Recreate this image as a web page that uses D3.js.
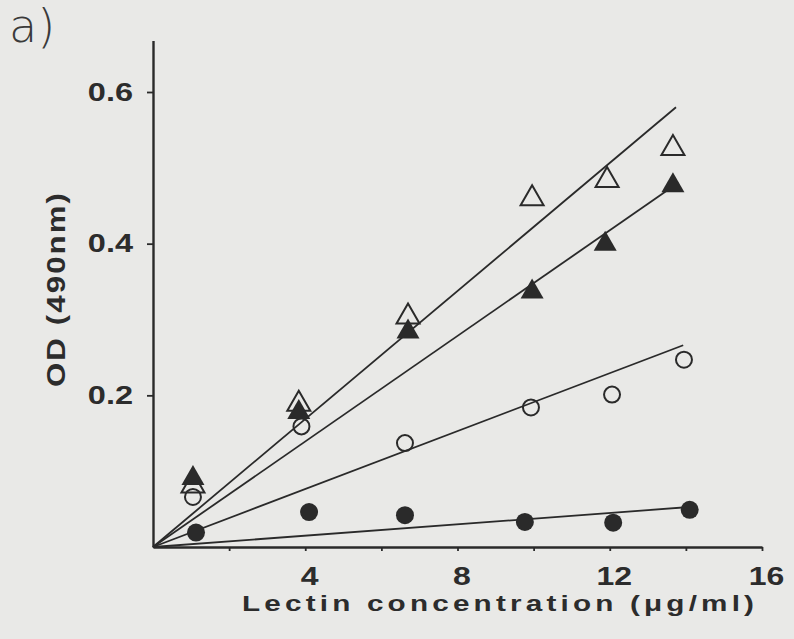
<!DOCTYPE html>
<html>
<head>
<meta charset="utf-8">
<script src="https://cdn.jsdelivr.net/npm/d3@7/dist/d3.min.js"></script>
<style>
  html, body { margin: 0; padding: 0; background: #e9e9e7; }
  svg { display: block; }
  .lbl { font-family: "Liberation Sans", Arial, sans-serif; font-weight: bold; fill: #2c2c2c; }
</style>
</head>
<body>
<svg id="chart" width="794" height="639"></svg>
<script>
// Lectin binding: OD at 490 nm against lectin concentration, four series
const xTicks = [2, 4, 6, 8, 10, 12, 14, 16];
const xTickLabels = [4, 8, 12, 16];
const yTicks = [0.2, 0.4, 0.6];

// open triangles
const openTriX = [1.05, 3.83, 6.70, 9.96, 11.93, 13.66];
const openTriY = [0.085, 0.193, 0.308, 0.464, 0.488, 0.530];
// filled triangles
const fillTriX = [1.05, 3.83, 6.70, 9.96, 11.88, 13.66];
const fillTriY = [0.095, 0.182, 0.288, 0.341, 0.404, 0.481];
// open circles
const openCircX = [1.05, 3.90, 6.62, 9.93, 12.06, 13.95];
const openCircY = [0.066, 0.159, 0.137, 0.184, 0.201, 0.247];
// filled circles
const fillCircX = [1.13, 4.10, 6.62, 9.77, 12.09, 14.10];
const fillCircY = [0.019, 0.046, 0.042, 0.033, 0.032, 0.049];

// fitted lines through the origin: slope (OD per µg/ml) and last concentration
const fitNames  = ["openTri", "fillTri", "openCirc", "fillCirc"];
const fitSlopes = [0.0422, 0.0348, 0.0191, 0.00374];
const fitEndX   = [13.74, 13.80, 13.93, 14.10];

const svg = d3.select("#chart");
const W = 794, H = 639;
const ink = "#2a2a2a";

svg.append("rect").attr("width", W).attr("height", H).attr("fill", "#e9e9e7");

const x = d3.scaleLinear([0, 16], [153, 762]);
const y = d3.scaleLinear([0, 0.6], [547, 92]);
const yTop = 0.668;
const yAxisScale = y.copy().domain([0, yTop]).range([y(0), y(yTop)]);

// x axis
const gx = svg.append("g")
  .attr("transform", `translate(0,${y(0)})`)
  .call(d3.axisBottom(x).tickValues(xTicks).tickSize(4).tickSizeOuter(0)
    .tickFormat(d => xTickLabels.includes(d) ? d : ""));
gx.select(".domain").attr("stroke", ink).attr("stroke-width", 2.4);
gx.selectAll(".tick line").attr("stroke", ink).attr("stroke-width", 1.8);
gx.selectAll(".tick text")
  .attr("class", "lbl")
  .attr("font-size", 25)
  .attr("y", 0).attr("dy", 0)
  .attr("transform", "translate(4,38) scale(1.28,1)");

// y axis
const gy = svg.append("g")
  .attr("transform", `translate(${x(0)},0)`)
  .call(d3.axisLeft(yAxisScale).tickValues(yTicks).tickSize(6).tickSizeOuter(0)
    .tickFormat(d3.format(".1f")));
gy.select(".domain").attr("stroke", ink).attr("stroke-width", 2.4);
gy.selectAll(".tick line").attr("stroke", ink).attr("stroke-width", 1.8);
gy.selectAll(".tick text")
  .attr("class", "lbl")
  .attr("font-size", 26)
  .attr("x", 0)
  .attr("text-anchor", "end")
  .attr("transform", "translate(-20,0) scale(1.25,1)");

// fitted lines
const fits = fitNames.map((n, i) => [[0, 0], [fitEndX[i], fitSlopes[i] * fitEndX[i]]]);
svg.append("g").selectAll("path").data(fits).join("path")
  .attr("d", d3.line().x(d => x(d[0])).y(d => y(d[1])))
  .attr("fill", "none")
  .attr("stroke", ink)
  .attr("stroke-width", 1.8);

// markers
const zip = (xs, ys) => xs.map((v, i) => [v, ys[i]]);
const triW = 23, triH = 20;
const triPath = d => {
  const cx = x(d[0]), cy = y(d[1]);
  return `M${cx},${cy - triH / 2}L${cx + triW / 2},${cy + triH / 2}L${cx - triW / 2},${cy + triH / 2}Z`;
};

const marks = svg.append("g");
marks.selectAll(".oc").data(zip(openCircX, openCircY)).join("circle")
  .attr("cx", d => x(d[0])).attr("cy", d => y(d[1])).attr("r", 8)
  .attr("fill", "none").attr("stroke", ink).attr("stroke-width", 2);
marks.selectAll(".fc").data(zip(fillCircX, fillCircY)).join("circle")
  .attr("cx", d => x(d[0])).attr("cy", d => y(d[1])).attr("r", 9)
  .attr("fill", ink);
marks.selectAll(".ot").data(zip(openTriX, openTriY)).join("path")
  .attr("d", triPath)
  .attr("fill", "none").attr("stroke", ink).attr("stroke-width", 2).attr("stroke-linejoin", "miter");
marks.selectAll(".ft").data(zip(fillTriX, fillTriY)).join("path")
  .attr("d", triPath)
  .attr("fill", ink);

// axis titles
svg.append("g").attr("transform", "translate(242,611) scale(1.35,1)")
  .append("text").attr("class", "lbl")
  .attr("font-size", 22)
  .attr("textLength", 512 / 1.35).attr("lengthAdjust", "spacing")
  .text("Lectin concentration (μg/ml)");

svg.append("g").attr("transform", "translate(65,290) rotate(-90) scale(1.2,1)")
  .append("text").attr("class", "lbl")
  .attr("font-size", 26)
  .attr("text-anchor", "middle")
  .attr("textLength", 194 / 1.2).attr("lengthAdjust", "spacing")
  .text("OD (490nm)");

// panel label
svg.append("text")
  .attr("x", 9).attr("y", 42)
  .attr("font-family", "DejaVu Sans, sans-serif")
  .attr("font-weight", 200)
  .attr("font-size", 46)
  .attr("fill", "#3a3a3a")
  .text("a)");
</script>
</body>
</html>
